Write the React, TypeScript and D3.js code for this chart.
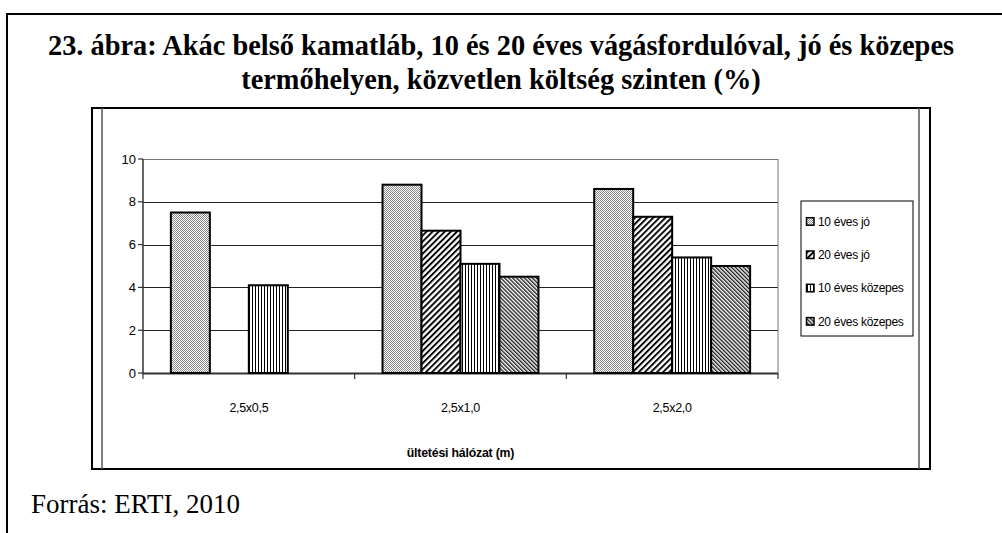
import React from "react";
import * as d3 from "d3";

const categories = ["2,5x0,5", "2,5x1,0", "2,5x2,0"];
const seriesNames = ["10 éves jó", "20 éves jó", "10 éves közepes", "20 éves közepes"];
const s10jo: (number | null)[] = [7.5, 8.8, 8.6];
const s20jo: (number | null)[] = [null, 6.65, 7.3];
const s10kozepes: (number | null)[] = [4.1, 5.1, 5.4];
const s20kozepes: (number | null)[] = [null, 4.5, 5.0];
const seriesValues = [s10jo, s20jo, s10kozepes, s20kozepes];
const yTicks = [0, 2, 4, 6, 8, 10];

const titleLines = [
  "23. ábra: Akác belső kamatláb, 10 és 20 éves vágásfordulóval, jó és közepes",
  "termőhelyen, közvetlen költség szinten (%)",
];
const source = "Forrás: ERTI, 2010";
const xTitle = "ültetési hálózat (m)";

const W = 1002;
const H = 533;

export default function App() {
  const plot = { left: 143, right: 778, top: 159, bottom: 373 };
  const x0 = d3.scaleBand<string>().domain(categories).range([plot.left, plot.right]).padding(0);
  const x1 = d3
    .scaleBand<string>()
    .domain(seriesNames)
    .range([0, x0.bandwidth()])
    .paddingInner(0)
    .paddingOuter(0.715);
  const y = d3.scaleLinear().domain([0, 10]).range([plot.bottom, plot.top]);
  const fills = ["url(#p1)", "url(#p2)", "url(#p3)", "url(#p4)"];
  const sans = "'Liberation Sans', Arial, sans-serif";
  const serif = "'Liberation Serif', 'Times New Roman', serif";

  const boundaries = [...categories.map((c) => x0(c) as number), plot.right];

  return (
    <svg
      width={W}
      height={H}
      style={{ position: "absolute", left: 0, top: 0, background: "#fff" }}
    >
      <defs>
        <pattern id="p1" width="2" height="2" patternUnits="userSpaceOnUse">
          <rect width="2" height="2" fill="#fff" />
          <rect width="1" height="1" fill="#8a8a8a" />
          <rect x="1" y="1" width="1" height="1" fill="#8a8a8a" />
        </pattern>
        <pattern
          id="p2"
          width="4.3"
          height="4.3"
          patternUnits="userSpaceOnUse"
          patternTransform="rotate(45)"
        >
          <rect width="4.3" height="4.3" fill="#fff" />
          <line x1="1" y1="0" x2="1" y2="4.3" stroke="#000" strokeWidth="1.9" />
        </pattern>
        <pattern id="p3" width="3" height="3" patternUnits="userSpaceOnUse">
          <rect width="3" height="3" fill="#fff" />
          <line x1="0.5" y1="0" x2="0.5" y2="3" stroke="#000" strokeWidth="1" />
        </pattern>
        <pattern
          id="p4"
          width="2.8"
          height="2.8"
          patternUnits="userSpaceOnUse"
          patternTransform="rotate(-45)"
        >
          <rect width="2.8" height="2.8" fill="#fff" />
          <line x1="0.7" y1="0" x2="0.7" y2="2.8" stroke="#222" strokeWidth="1.4" />
        </pattern>
      </defs>

      {/* outer page box */}
      <line x1={7} y1={14} x2={W} y2={14} stroke="#000" strokeWidth={2} />
      <line x1={7} y1={13} x2={7} y2={H} stroke="#000" strokeWidth={2} />

      {/* title */}
      {titleLines.map((t, i) => (
        <text
          key={i}
          x={501}
          y={55 + i * 34}
          textAnchor="middle"
          fontFamily={serif}
          fontWeight="bold"
          fontSize={28.4}
          fill="#000"
        >
          {t}
        </text>
      ))}

      {/* chart frame */}
      <rect x={92} y={108} width={838} height={361} fill="#fff" stroke="#000" strokeWidth={2} />
      <line x1={102} y1={108} x2={102} y2={469} stroke="#555" strokeWidth={1.5} />
      <line x1={919} y1={108} x2={919} y2={469} stroke="#555" strokeWidth={1.5} />

      {/* gridlines */}
      {yTicks.map((t) => (
        <line
          key={t}
          x1={plot.left}
          x2={plot.right}
          y1={Math.round(y(t)) + 0.5}
          y2={Math.round(y(t)) + 0.5}
          stroke={t === 0 ? "#333" : t === 10 ? "#777" : "#222"}
          strokeWidth={t === 0 ? 2 : 1}
        />
      ))}
      <line x1={plot.right} x2={plot.right} y1={plot.top} y2={plot.bottom} stroke="#777" strokeWidth={1} />

      {/* bars */}
      {seriesValues.map((vals, si) =>
        vals.map((v, ci) =>
          v == null ? null : (
            <rect
              key={`${si}-${ci}`}
              x={(x0(categories[ci]) as number) + (x1(seriesNames[si]) as number)}
              y={y(v)}
              width={x1.bandwidth()}
              height={y(0) - y(v)}
              fill={fills[si]}
              stroke="#000"
              strokeWidth={2}
            />
          )
        )
      )}

      {/* y axis */}
      <line x1={plot.left} x2={plot.left} y1={plot.top} y2={plot.bottom + 1} stroke="#333" strokeWidth={1.5} />
      {yTicks.map((t) => (
        <g key={t}>
          <line x1={plot.left - 5} x2={plot.left} y1={y(t)} y2={y(t)} stroke="#333" strokeWidth={1.2} />
          <text
            x={plot.left - 7}
            y={y(t) + 4.5}
            textAnchor="end"
            fontFamily={sans}
            fontSize={13}
            fill="#000"
          >
            {t}
          </text>
        </g>
      ))}

      {/* x axis ticks and labels */}
      {boundaries.map((b, i) => (
        <line key={i} x1={b} x2={b} y1={plot.bottom} y2={plot.bottom + 6} stroke="#333" strokeWidth={1.2} />
      ))}
      {categories.map((c) => (
        <text
          key={c}
          x={(x0(c) as number) + x0.bandwidth() / 2}
          y={412}
          textAnchor="middle"
          fontFamily={sans}
          fontSize={12.5}
          letterSpacing={-0.3}
          fill="#000"
        >
          {c}
        </text>
      ))}
      <text
        x={(plot.left + plot.right) / 2}
        y={457}
        textAnchor="middle"
        fontFamily={sans}
        fontWeight="bold"
        fontSize={12.3}
        letterSpacing={-0.2}
        fill="#000"
      >
        {xTitle}
      </text>

      {/* legend */}
      <rect x={801} y={201} width={112} height={135} fill="#fff" stroke="#000" strokeWidth={1} />
      {seriesNames.map((s, i) => {
        const cy = 221.7 + i * 33.3;
        return (
          <g key={s}>
            <rect x={806.5} y={cy - 4} width={7.5} height={7.5} fill={fills[i]} stroke="#000" strokeWidth={1.5} />
            <text x={818} y={cy + 4} fontFamily={sans} fontSize={12} letterSpacing={-0.3} fill="#000">
              {s}
            </text>
          </g>
        );
      })}

      {/* source */}
      <text x={31} y={513} fontFamily={serif} fontSize={27} fill="#000">
        {source}
      </text>
    </svg>
  );
}
